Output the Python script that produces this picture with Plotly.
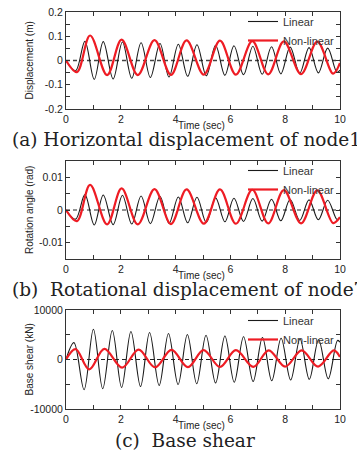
import plotly.graph_objects as go

W, H = 357, 454

# ---------------- data ----------------
# (a) Horizontal displacement, (b) rotation: extrema times
lin_t_ab = [0, 0.35, 0.69, 1.03, 1.36, 1.72, 2.06, 2.40, 2.74, 3.08, 3.43, 3.76, 4.10, 4.44,
            4.78, 5.12, 5.46, 5.80, 6.13, 6.48, 6.82, 7.16, 7.50, 7.84, 8.18, 8.53, 8.87,
            9.21, 9.55, 9.89, 10.0]
nl_t_ab = [0, 0.40, 0.88, 1.50, 2.03, 2.62, 3.23, 3.83, 4.40, 5.03, 5.62, 6.20, 6.80, 7.38,
           7.95, 8.58, 9.17, 9.75, 10.0]

disp_linear = [0, -0.042, 0.079, -0.078, 0.078, -0.076, 0.076, -0.073, 0.073, -0.070, 0.070,
               -0.068, 0.067, -0.065, 0.065, -0.063, 0.063, -0.061, 0.061, -0.059, 0.059,
               -0.057, 0.057, -0.055, 0.055, -0.053, 0.053, -0.051, 0.051, -0.049, -0.040]
disp_nonlinear = [0, -0.048, 0.103, -0.060, 0.086, -0.060, 0.084, -0.059, 0.083, -0.058,
                  0.082, -0.058, 0.080, -0.057, 0.079, -0.056, 0.078, -0.054, -0.010]

rot_linear = [0, -0.0028, 0.0047, -0.0046, 0.0046, -0.0045, 0.0045, -0.0043, 0.0043, -0.0042,
              0.0042, -0.0041, 0.0040, -0.0039, 0.0039, -0.0038, 0.0037, -0.0036, 0.0036,
              -0.0035, 0.0035, -0.0034, 0.0033, -0.0033, 0.0032, -0.0032, 0.0031, -0.0030,
              0.0030, -0.0029, -0.0022]
rot_nonlinear = [0, -0.0034, 0.0077, -0.0044, 0.0066, -0.0044, 0.0064, -0.0043, 0.0063,
                 -0.0042, 0.0063, -0.0042, 0.0062, -0.0041, 0.0061, -0.0041, 0.0060, -0.0040,
                 -0.0022]

# (c) Base shear
lin_t_c = [0, 0.29, 0.66, 1.00, 1.34, 1.69, 2.03, 2.37, 2.72, 3.05, 3.40, 3.74, 4.09, 4.43,
           4.77, 5.11, 5.46, 5.80, 6.14, 6.48, 6.83, 7.17, 7.51, 7.85, 8.20, 8.54, 8.88,
           9.22, 9.57, 9.91, 10.0]
nl_t_c = [0, 0.35, 0.85, 1.40, 2.05, 2.65, 3.25, 3.85, 4.45, 5.02, 5.62, 6.20, 6.84, 7.40,
          8.00, 8.60, 9.20, 9.77, 10.0]
shear_linear = [0, 3400, -6100, 6100, -5900, 5850, -5650, 5650, -5450, 5450, -5250, 5250,
                -5050, 5050, -4900, 4900, -4750, 4750, -4600, 4600, -4450, 4450, -4300, 4300,
                -4150, 4150, -4000, 4000, -3900, 3850, 3500]
shear_nonlinear = [0, 2100, -2000, 2150, -1650, 2000, -1600, 1950, -1550, 1900, -1500, 1880,
                   -1480, 1850, -1450, 1850, -1430, 1830, 500]

x_tickvals = [0, 2, 4, 6, 8, 10]
x_ticktext = ["0", "2", "4", "6", "8", "10"]
x_minor = [1, 3, 5, 7, 9]

ya_tickvals = [-0.2, -0.1, 0, 0.1, 0.2]
ya_ticktext = ["-0.2", "-0.1", "0", "0.1", "0.2"]
ya_minor = [-0.15, -0.05, 0.05, 0.15]
yb_tickvals = [-0.01, 0, 0.01]
yb_ticktext = ["-0.01", "0", "0.01"]
yb_minor = [-0.005, 0.005]
yc_tickvals = [-10000, 0, 10000]
yc_ticktext = ["-10000", "0", "10000"]
yc_minor = [-5000, 5000]

y_titles = ["Displacement (m)", "Rotation angle (rad)", "Base shear (kN)"]
x_title = "Time (sec)"
captions = ["(a) Horizontal displacement of node1",
            "(b)\u00a0 Rotational displacement of node7",
            "(c)\u00a0 Base shear"]
series_names = ["Linear", "Non-linear"]

# ---------------- layout geometry (pixels) ----------------
plot_left, plot_right = 66, 340
panel_px = [(12, 109), (161, 259), (310, 409)]
y_ranges = [[-0.2, 0.2], [-0.015, 0.015], [-10000, 10000]]
legend_top = [7, 156, 306]
caption_mid = [139, 289, 440]

LINE = "#333333"
BLACK = "#1a1a1a"
RED = "#ee1c24"
SANS = "Liberation Sans, Arial, sans-serif"
SERIF = "DejaVu Serif, serif"

panels = [
    (lin_t_ab, disp_linear, nl_t_ab, disp_nonlinear, ya_tickvals, ya_ticktext, ya_minor),
    (lin_t_ab, rot_linear, nl_t_ab, rot_nonlinear, yb_tickvals, yb_ticktext, yb_minor),
    (lin_t_c, shear_linear, nl_t_c, shear_nonlinear, yc_tickvals, yc_ticktext, yc_minor),
]

fig = go.Figure()
annotations = []
shapes = []
layout = dict(
    width=W, height=H, margin=dict(l=0, r=0, t=0, b=0, autoexpand=False),
    paper_bgcolor="white", plot_bgcolor="white", showlegend=True,
)

for i, (lt, ly, nt, ny, tv, tt, mv) in enumerate(panels):
    k = "" if i == 0 else str(i + 1)
    xa, ya = "x" + k, "y" + k
    leg = "legend" + k
    fig.add_trace(go.Scatter(x=lt, y=ly, mode="lines", name=series_names[0],
                             line=dict(color=BLACK, width=1.1, shape="spline", smoothing=1.0),
                             xaxis=xa, yaxis=ya, legend=leg))
    fig.add_trace(go.Scatter(x=nt, y=ny, mode="lines", name=series_names[1],
                             line=dict(color=RED, width=2.2, shape="spline", smoothing=1.0),
                             xaxis=xa, yaxis=ya, legend=leg))
    top, bot = panel_px[i]
    layout["xaxis" + k] = dict(
        domain=[plot_left / W, plot_right / W], range=[0, 10], anchor=ya,
        tickmode="array", tickvals=x_tickvals, ticktext=x_ticktext,
        ticks="inside", ticklen=4, tickwidth=1, tickcolor=LINE,
        minor=dict(tickmode="array", tickvals=x_minor, ticks="inside", ticklen=4,
                   tickwidth=1, tickcolor=LINE),
        showline=True, linecolor=LINE, linewidth=1, mirror="ticks",
        showgrid=False, zeroline=False, automargin=False,
        tickfont=dict(family=SANS, size=10.5, color="#222"),
    )
    layout["yaxis" + k] = dict(
        domain=[1 - bot / H, 1 - top / H], range=y_ranges[i], anchor=xa,
        tickmode="array", tickvals=tv, ticktext=tt,
        ticks="inside", ticklen=4, tickwidth=1, tickcolor=LINE,
        minor=dict(tickmode="array", tickvals=mv, ticks="inside", ticklen=4,
                   tickwidth=1, tickcolor=LINE),
        showline=True, linecolor=LINE, linewidth=1, mirror="ticks",
        showgrid=False, zeroline=False, automargin=False,
        tickfont=dict(family=SANS, size=10.5, color="#222"),
    )
    layout[leg] = dict(
        x=243 / W, y=1 - legend_top[i] / H, xanchor="left", yanchor="top",
        bgcolor="rgba(0,0,0,0)", borderwidth=0, itemwidth=30, tracegroupgap=0,
        font=dict(family=SANS, size=11, color="#333"),
    )
    shapes.append(dict(type="line", xref=xa + " domain", x0=0, x1=1, yref=ya, y0=0, y1=0,
                       line=dict(color="#222" if i else "#444", width=1.2 if i else 1.5,
                                 dash="4px,3px"), layer="below"))
    mid = (top + bot) / 2
    annotations.append(dict(text=y_titles[i], xref="paper", yref="paper",
                            x=29 / W, y=1 - mid / H, textangle=-90, showarrow=False,
                            xanchor="center", yanchor="middle",
                            font=dict(family=SANS, size=10, color="#222")))
    annotations.append(dict(text=x_title, xref="paper", yref="paper",
                            x=201 / W, y=1 - (bot + 16) / H, showarrow=False,
                            xanchor="center", yanchor="middle",
                            font=dict(family=SANS, size=10, color="#222")))
    if i < 2:
        annotations.append(dict(text=captions[i], xref="paper", yref="paper",
                                x=10 / W, y=1 - caption_mid[i] / H, showarrow=False,
                                xanchor="left", yanchor="middle",
                                font=dict(family=SERIF, size=18.5, color="#222")))
    else:
        annotations.append(dict(text=captions[i], xref="paper", yref="paper",
                                x=185 / W, y=1 - caption_mid[i] / H, showarrow=False,
                                xanchor="center", yanchor="middle",
                                font=dict(family=SERIF, size=18.5, color="#222")))

layout["annotations"] = annotations
layout["shapes"] = shapes
fig.update_layout(**layout)
fig.write_html(
    "out.html",
    config={"displayModeBar": False, "staticPlot": True},
    post_script="document.body.style.margin='0';document.body.style.padding='0';"
                "document.body.style.overflow='hidden';",
)
